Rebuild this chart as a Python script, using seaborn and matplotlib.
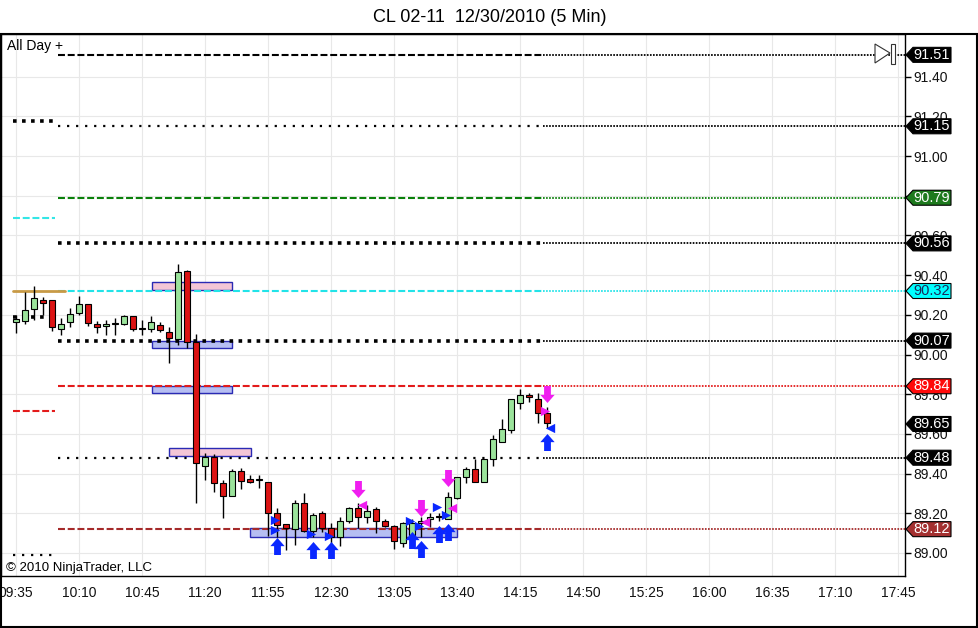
import numpy as np
import pandas as pd
import matplotlib
matplotlib.use("Agg")
import matplotlib.pyplot as plt
from matplotlib.patches import Rectangle, Polygon
import seaborn as sns

# 5 minute bars, 09:35 .. 14:30
opens = [90.162, 90.170, 90.231, 90.275, 90.273, 90.130, 90.162, 90.211, 90.254, 90.154,
         90.142, 90.154, 90.152, 90.194, 90.130, 90.130, 90.150, 90.113, 90.078, 90.422,
         90.061, 89.440, 89.482, 89.351, 89.289, 89.413, 89.371, 89.368, 89.359, 89.200,
         89.146, 89.119, 89.250, 89.110, 89.200, 89.124, 89.082, 89.160, 89.228, 89.180,
         89.220, 89.161, 89.138, 89.050, 89.090, 89.150, 89.170, 89.183, 89.170, 89.276,
         89.381, 89.423, 89.359, 89.472, 89.561, 89.620, 89.754, 89.796, 89.774, 89.704]
highs = [90.199, 90.316, 90.345, 90.291, 90.273, 90.182, 90.233, 90.296, 90.254, 90.170,
         90.174, 90.182, 90.200, 90.194, 90.174, 90.194, 90.165, 90.140, 90.456, 90.425,
         90.103, 89.505, 89.499, 89.368, 89.423, 89.427, 89.393, 89.393, 89.359, 89.228,
         89.146, 89.267, 89.304, 89.203, 89.214, 89.150, 89.183, 89.233, 89.250, 89.242,
         89.233, 89.170, 89.142, 89.154, 89.170, 89.180, 89.200, 89.200, 89.309, 89.385,
         89.432, 89.472, 89.474, 89.594, 89.673, 89.774, 89.825, 89.808, 89.805, 89.734]
lows = [90.110, 90.154, 90.174, 90.199, 90.120, 90.098, 90.140, 90.199, 90.144, 90.110,
        90.098, 90.098, 90.150, 90.117, 90.098, 90.115, 90.115, 89.959, 90.048, 90.035,
        89.250, 89.368, 89.309, 89.175, 89.289, 89.321, 89.351, 89.326, 89.085, 89.082,
        89.015, 89.040, 89.107, 89.082, 89.107, 89.049, 89.035, 89.150, 89.124, 89.150,
        89.099, 89.133, 89.019, 89.030, 89.060, 89.080, 89.133, 89.160, 89.170, 89.270,
        89.351, 89.359, 89.359, 89.440, 89.561, 89.603, 89.724, 89.762, 89.653, 89.628]
closes = [90.177, 90.223, 90.283, 90.261, 90.140, 90.154, 90.203, 90.254, 90.160, 90.140,
          90.154, 90.154, 90.194, 90.130, 90.131, 90.162, 90.122, 90.081, 90.414, 90.061,
          89.452, 89.485, 89.351, 89.289, 89.413, 89.363, 89.359, 89.368, 89.200, 89.141,
          89.126, 89.250, 89.112, 89.190, 89.124, 89.082, 89.160, 89.228, 89.180, 89.211,
          89.161, 89.138, 89.061, 89.150, 89.150, 89.160, 89.183, 89.180, 89.284, 89.381,
          89.423, 89.359, 89.474, 89.574, 89.623, 89.774, 89.796, 89.784, 89.704, 89.653]

time_labels = ["09:35", "10:10", "10:45", "11:20", "11:55", "12:30", "13:05", "13:40",
               "14:15", "14:50", "15:25", "16:00", "16:35", "17:10", "17:45"]
price_ticks = [89.0, 89.2, 89.4, 89.6, 89.8, 90.0, 90.2, 90.4, 90.6, 90.8, 91.0, 91.2, 91.4]

# today's levels
level_prices = [91.51, 91.15, 90.79, 90.56, 90.32, 90.07, 89.84, 89.48, 89.12]
level_styles = ["dash", "dot", "dash", "bigdot", "dash", "bigdot", "dash", "dot", "dash"]
level_colors = ["black", "black", "#0a800a", "black", "#22e3e8", "black", "#e31b1b", "black", "#a52a2a"]
tag_colors = ["black", "black", "#1e7a1e", "black", "#00ffff", "black", "#ff0a0a", "black", "#a33030"]
tag_text_colors = ["white", "white", "white", "white", "#1a2a5a", "white", "white", "white", "white"]
last_price = 89.65

# prior session levels (short stubs at the left)
prev_prices = [91.176, 90.69, 90.318, 90.19, 89.715, 88.99]
prev_styles = ["bigdot", "dash", "solid", "bigdot", "dash", "dot"]
prev_colors = ["black", "#33e6e6", "#c89a46", "black", "#e31b1b", "black"]

# zones
zone_start = [15.1, 15.1, 15.1, 17.0, 26.0]
zone_end = [24.0, 24.0, 24.0, 26.1, 49.0]
zone_low = [90.325, 90.031, 89.807, 89.490, 89.078]
zone_high = [90.367, 90.068, 89.840, 89.527, 89.127]
zone_kind = ["sell", "buy", "buy", "sell", "buy"]

# signals
buy_arrow_bars = [29, 33, 35, 44, 45, 47, 48, 59]
buy_arrow_prices = [89.035, 89.015, 89.015, 89.065, 89.022, 89.095, 89.105, 89.56]
sell_arrow_bars = [38, 45, 48, 59]
sell_arrow_prices = [89.322, 89.229, 89.38, 89.80]
blue_tri_bars = [29, 29, 33, 35, 44, 45, 47, 48]
blue_tri_prices = [89.166, 89.118, 89.098, 89.088, 89.161, 89.136, 89.232, 89.191]
pink_tri_bars = [38, 45, 48]
pink_tri_prices = [89.242, 89.154, 89.229]

W, H = 979, 628
sns.set_style("white")
plt.rcParams["font.family"] = ["Liberation Sans", "DejaVu Sans"]
plt.rcParams["lines.scale_dashes"] = False

fig = plt.figure(figsize=(W / 100, H / 100), dpi=100)
ax = fig.add_axes([1 / W, (H - 576) / H, 904 / W, 542 / H])

bars = np.arange(len(opens))
df = pd.DataFrame({"bar": bars, "open": opens, "high": highs, "low": lows, "close": closes})
df["up"] = df["close"] >= df["open"]

# zones
for x0, x1, lo, hi, kind in zip(zone_start, zone_end, zone_low, zone_high, zone_kind):
    fc = "#f4c6d6" if kind == "sell" else "#b6bef2"
    ax.add_patch(Rectangle((x0, lo), x1 - x0, hi - lo, fc=fc, ec="#2a2ab4", lw=1.0, zorder=1))

styles = {
    "dash": dict(lw=1.5, dashes=(5.0, 2.0)),
    "bigdot": dict(lw=2.6, dashes=(2.6, 3.9)),
    "dot": dict(lw=1.6, dashes=(1.6, 4.9)),
    "solid": dict(lw=2.0),
}
line_start, line_end, x_max = 4.67, 58.56, 98.78

for p, st, c in zip(level_prices, level_styles, level_colors):
    ax.plot([line_start, line_end], [p, p], color=c, zorder=2, dash_capstyle="butt", **styles[st])
    ax.plot([line_end, x_max], [p, p], color=c, lw=1.3, dashes=(1.2, 1.0), zorder=2)

for p, st, c in zip(prev_prices, prev_styles, prev_colors):
    x1 = 5.4 if st == "solid" else 4.33
    ax.plot([-0.33, x1], [p, p], color=c, zorder=2, dash_capstyle="butt", **styles[st])

# candles
ax.vlines(df["bar"], df["low"], df["high"], color="black", lw=1.0, zorder=3)
body_lo = df[["open", "close"]].min(axis=1)
body_h = (df["close"] - df["open"]).abs().clip(lower=0.006)
body_col = np.where(df["up"], "#9be39b", "#dc1414")
ax.bar(df["bar"], body_h, bottom=body_lo, width=0.66, color=body_col,
       edgecolor="black", linewidth=0.8, zorder=4)

# signal markers
up_arrow = [(-0.2, -0.5), (0.2, -0.5), (0.2, 0.02), (0.42, 0.02), (0, 0.5), (-0.42, 0.02), (-0.2, 0.02)]
dn_arrow = [(x, -y) for x, y in up_arrow]
sns.scatterplot(x=buy_arrow_bars, y=buy_arrow_prices, marker=up_arrow, s=150,
                color="#0a28ff", linewidth=0, ax=ax, zorder=6)
sns.scatterplot(x=sell_arrow_bars, y=sell_arrow_prices, marker=dn_arrow, s=150,
                color="#f01ef0", linewidth=0, ax=ax, zorder=6)
sns.scatterplot(x=np.array(blue_tri_bars) - 0.25, y=blue_tri_prices, marker=">", s=45,
                color="#0a28ff", linewidth=0, ax=ax, zorder=6)
sns.scatterplot(x=np.array(pink_tri_bars) + 0.42, y=pink_tri_prices, marker="<", s=45,
                color="#f01ef0", linewidth=0, ax=ax, zorder=6)
sns.scatterplot(x=[59 - 0.22], y=[89.715], marker=">", s=45, color="#f01ef0", linewidth=0, ax=ax, zorder=6)
sns.scatterplot(x=[59 + 0.39], y=[89.632], marker="<", s=45, color="#0a28ff", linewidth=0, ax=ax, zorder=6)

# axes
ax.set_xlim(-1.667, x_max)
ax.set_ylim(88.884, 91.615)
ax.set_xticks(np.arange(len(time_labels)) * 7)
ax.set_xticklabels(time_labels)
ax.set_yticks(price_ticks)
ax.set_yticklabels([f"{t:.2f}" for t in price_ticks])
ax.yaxis.tick_right()
ax.tick_params(axis="both", direction="out", length=4, width=1, color="black",
               labelsize=10, labelcolor="#111111", pad=2)
ax.tick_params(axis="x", pad=3)
ax.grid(True, color="#e8e8e8", lw=0.8)
ax.set_axisbelow(True)
for side in ["top", "left", "right", "bottom"]:
    ax.spines[side].set_visible(True)
    ax.spines[side].set_color("black")
    ax.spines[side].set_linewidth(1.0)
ax.set_xlabel("")
ax.set_ylabel("")

# outer frame
fig.add_artist(Rectangle((0.5 / W, 1 / H), 976.5 / W, (627 - 34) / H, transform=fig.transFigure,
                         fill=False, ec="black", lw=1.5, zorder=5))

fig.text(490 / W, 1 - 17.5 / H, "CL 02-11  12/30/2010 (5 Min)", ha="center", va="center",
         fontsize=13, color="black")
fig.text(7 / W, 1 - 46 / H, "All Day +", ha="left", va="center", fontsize=10, color="black")
fig.text(6 / W, 1 - 568 / H, "\u00a9 2010 NinjaTrader, LLC", ha="left", va="center",
         fontsize=9.5, color="black")


def add_tag(price, bg, fg):
    yc = H - ax.transData.transform((0, price))[1]
    pts = [(906, yc), (913, yc - 7.5), (951, yc - 7.5), (951, yc + 7.5), (913, yc + 7.5)]
    fig.add_artist(Polygon([(x / W, 1 - y / H) for x, y in pts], closed=True,
                           transform=fig.transFigure, fc=bg, ec="black", lw=0.8, zorder=3))
    fig.text(932 / W, 1 - yc / H, f"{price:.2f}", ha="center", va="center",
             fontsize=10.5, color=fg, zorder=4)


for p, bg, fg in zip(level_prices, tag_colors, tag_text_colors):
    add_tag(p, bg, fg)
add_tag(last_price, "black", "white")

# chart scroll marker, top right
yc = 53
fig.add_artist(Polygon([(875 / W, 1 - 44 / H), (875 / W, 1 - 63 / H), (890 / W, 1 - yc / H)],
                       closed=True, transform=fig.transFigure, fc="white", ec="#333333", lw=0.8, zorder=3))
fig.add_artist(Rectangle((891 / W, 1 - 64 / H), 4 / W, 20 / H, transform=fig.transFigure,
                         fc="white", ec="#333333", lw=0.8, zorder=3))

fig.savefig("out.png", dpi=100)
